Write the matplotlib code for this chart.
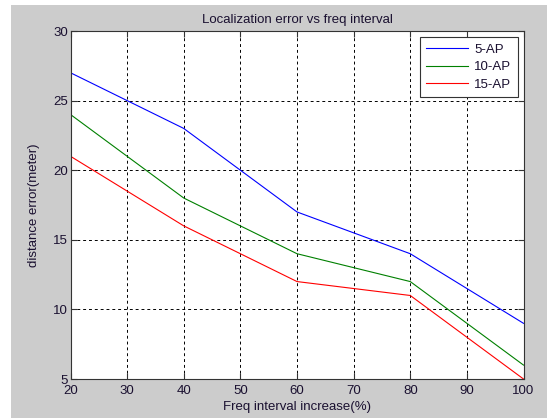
import matplotlib
matplotlib.use("Agg")
import matplotlib.pyplot as plt
from matplotlib.patches import Rectangle

freq = [20, 40, 60, 80, 100]
ap5 = [27, 23, 17, 14, 9]
ap10 = [24, 18, 14, 12, 6]
ap15 = [21, 16, 12, 11, 5]

plt.rcParams['font.family'] = ['Liberation Sans', 'DejaVu Sans']
txt = '#1a1030'
fs = 9.5

fig = plt.figure(figsize=(5.47, 4.18), dpi=100)
fig.patch.set_facecolor('white')
# matlab grey figure panel (leaves a thin white strip on left/top)
fig.patches.append(Rectangle((11 / 547, 0), 1 - 11 / 547, 1 - 5 / 418,
                             transform=fig.transFigure, facecolor='#cccccc',
                             edgecolor='none', zorder=-5))

ax = fig.add_axes([70.5 / 547, 1 - 379 / 418, 453 / 547, 348 / 418])
ax.set_zorder(2)
ax.set_facecolor('white')

ax.plot(freq, ap5, color='#0000ff', lw=0.8, label='5-AP')
ax.plot(freq, ap10, color='#008000', lw=0.8, label='10-AP')
ax.plot(freq, ap15, color='#ff0000', lw=0.8, label='15-AP')

ax.set_xlim(20, 100)
ax.set_ylim(5, 30)
ax.set_xticks(range(20, 101, 10))
ax.set_yticks(range(5, 31, 5))
ax.grid(True, color='black', linestyle=(0, (3, 3)), linewidth=0.7)
ax.tick_params(direction='in', top=True, right=True, length=4, width=0.8,
               labelsize=fs, labelcolor=txt, color='#333333', pad=2)
ax.tick_params(axis='x', pad=4)
for s in ax.spines.values():
    s.set_color('#333333')
    s.set_linewidth(0.8)

ax.set_title('Localization error vs freq interval', fontsize=fs, color=txt, pad=6)
ax.set_xlabel('Freq interval increase(%)', fontsize=fs, color=txt, labelpad=3)
ax.set_ylabel('distance error(meter)', fontsize=fs, color=txt, labelpad=9)

leg = ax.legend(loc='upper right', fontsize=fs, fancybox=False, framealpha=1,
                edgecolor='#333333', handlelength=3.2, handletextpad=0.45,
                borderpad=0.5, labelspacing=0.4, borderaxespad=0,
                bbox_to_anchor=(1 - 5.5 / 453, 1 - 6 / 348))
leg.get_frame().set_linewidth(0.8)
for t in leg.get_texts():
    t.set_color(txt)

fig.savefig('out.png', dpi=100)
